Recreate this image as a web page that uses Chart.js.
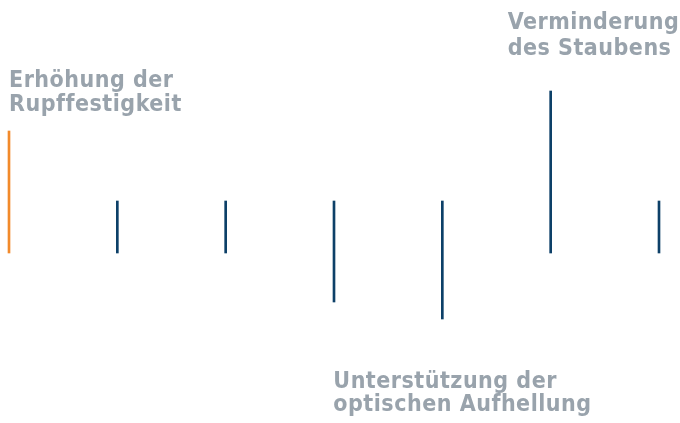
<!DOCTYPE html>
<html>
<head>
<meta charset="utf-8">
<script src="https://cdn.jsdelivr.net/npm/chart.js@4.4.1/dist/chart.umd.min.js"></script>
<style>
  html, body { margin: 0; padding: 0; background: #fff; }
  #wrap { width: 680px; height: 423px; position: relative; }
</style>
</head>
<body>
<div id="wrap"><canvas id="effectChart"></canvas></div>
<script>
(function() {
    "use strict";

    // categories (one per stroke)
    var categories = ["A", "B", "C", "D", "E", "F", "G"];
    // floating bar ranges, baseline = 0
    var barLow = [0, 0, 0, -49, -66, 0, 0];
    var barHigh = [122, 52, 52, 52, 52, 162, 52];
    var barColors = ["#F28A2B", "#0D4068", "#0D4068", "#0D4068", "#0D4068", "#0D4068", "#0D4068"];

    var labelText = [
        ["Erhöhung der", "Rupffestigkeit"],
        ["Verminderung", "des Staubens"],
        ["Unterstützung der", "optischen Aufhellung"]
    ];
    var labelBar = [0, 5, 4];
    var labelSide = ["above", "above", "below"];

    var ranges = categories.map(function(c, i) {
        return [barLow[i], barHigh[i]];
    });

    var textPlugin = {
        id: "effectLabels",
        afterDatasetsDraw: function(chart) {
            var ctx = chart.ctx;
            var meta = chart.getDatasetMeta(0);
            var offsets = [
                { dx: 0, dy: -44, lh: 24 },
                { dx: -43, dy: -62, lh: 26 },
                { dx: -109, dy: 69, lh: 23 }
            ];
            ctx.save();
            ctx.fillStyle = "#99A3AC";
            ctx.font = "bold 23px 'DejaVu Sans Condensed'";
            ctx.letterSpacing = "0.5px";
            ctx.textAlign = "left";
            ctx.textBaseline = "alphabetic";
            labelText.forEach(function(lines, k) {
                var bar = meta.data[labelBar[k]];
                var top = Math.min(bar.y, bar.base);
                var bottom = Math.max(bar.y, bar.base);
                var x = bar.x + offsets[k].dx;
                var y = (labelSide[k] === "above" ? top : bottom) + offsets[k].dy;
                lines.forEach(function(line, j) {
                    ctx.fillText(line, x, y + j * offsets[k].lh);
                });
            });
            ctx.restore();
        }
    };

    var canvas = document.getElementById("effectChart");
    new Chart(canvas, {
        type: "bar",
        data: {
            labels: categories,
            datasets: [{
                data: ranges,
                backgroundColor: barColors,
                barThickness: 2,
                borderWidth: 0,
                clip: false
            }]
        },
        options: {
            responsive: true,
            maintainAspectRatio: false,
            animation: false,
            layout: { padding: { left: 9, right: 21, top: 0, bottom: 0 } },
            plugins: {
                legend: { display: false },
                tooltip: { enabled: false }
            },
            scales: {
                x: {
                    display: false,
                    offset: false
                },
                y: {
                    display: false,
                    min: -170,
                    max: 253
                }
            }
        },
        plugins: [textPlugin]
    });
})();
</script>
</body>
</html>
